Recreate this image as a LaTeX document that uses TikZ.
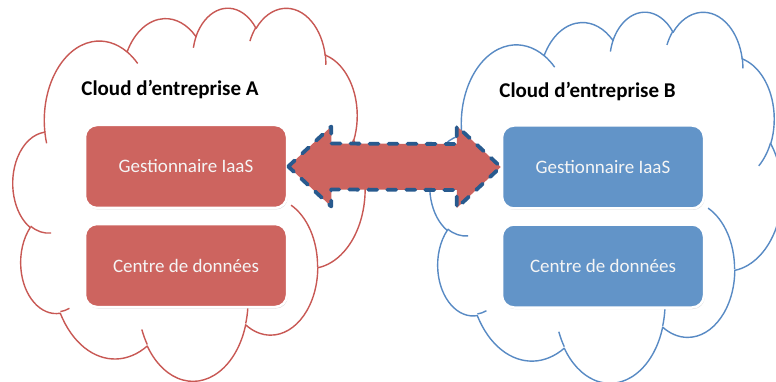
\documentclass[tikz,border=0pt]{standalone}
\usepackage{fontspec}
\setmainfont{Carlito}
\usetikzlibrary{calc,shadows}

\definecolor{redline}{RGB}{200,88,84}
\definecolor{redfill}{RGB}{205,100,95}
\definecolor{blueline}{RGB}{88,138,196}
\definecolor{bluefill}{RGB}{98,148,200}
\definecolor{dashblue}{RGB}{40,90,142}

% arc of the Office cloud shape: visual angles -> parametric angles
\newcommand\mkcarc[5]{%
  \pgfmathsetmacro\cta{atan2((#2)*sin(#4),(#3)*cos(#4))}%
  \pgfmathsetmacro\ctb{atan2((#2)*sin((#4)+(#5)),(#3)*cos((#4)+(#5)))}%
  \pgfmathsetmacro\ctd{(\ctb)-(\cta)+360*((\ctb)<(\cta))*((#5)>0)-360*((\ctb)>(\cta))*((#5)<0)}%
  \expandafter\xdef\csname #1\endcsname{arc[x radius=#2, y radius=#3, start angle=\cta, delta angle=\ctd]}%
}
\mkcarc{cArcA}{67.53}{91.90}{-190.4875}{123.7805}
\mkcarc{cArcB}{53.33}{72.67}{-144.1024}{89.9452}
\mkcarc{cArcC}{43.65}{59.45}{-145.8079}{99.7230}
\mkcarc{cArcD}{48.57}{65.95}{-130.9861}{117.2417}
\mkcarc{cArcE}{53.33}{72.73}{-78.7089}{109.0269}
\mkcarc{cArcF}{67.75}{92.20}{-46.2673}{130.2690}
\mkcarc{cArcG}{57.85}{78.67}{0.6250}{114.0333}
\mkcarc{cArcH}{67.52}{92.15}{22.4516}{115.1726}
\mkcarc{cArcI}{77.20}{105.43}{66.2426}{75.7110}
\mkcarc{cArcJ}{43.60}{59.18}{-274.9421}{146.7356}
\mkcarc{cArcK}{43.45}{59.45}{-246.8285}{152.5189}
\mkcarc{cInA}{43.45}{59.45}{86.7420}{26.4295}
\mkcarc{cInB}{43.60}{59.18}{73.6105}{11.4475}
\mkcarc{cInC}{67.52}{92.15}{137.6242}{14.0811}
\mkcarc{cInD}{67.52}{92.15}{6.4533}{15.9984}
\mkcarc{cInE}{57.85}{78.67}{-70.2924}{70.9174}
\mkcarc{cInF}{53.33}{72.73}{30.3180}{27.7515}
\mkcarc{cInG}{48.57}{65.95}{-13.7443}{14.8589}
\mkcarc{cInH}{48.57}{65.95}{-149.1815}{18.1954}
\mkcarc{cInI}{43.65}{59.45}{-163.4943}{17.6864}
\mkcarc{cInJ}{67.53}{91.90}{-66.7070}{12.3194}
\mkcarc{cInK}{67.53}{91.90}{157.6544}{11.8582}

\newcommand\cloudshape{%
  \draw (39.00,143.70) \cArcA \cArcB \cArcC \cArcD \cArcE \cArcF \cArcG \cArcH \cArcI \cArcJ \cArcK -- cycle;
  \draw (46.93,261.77) \cInA
        (69.28,348.99) \cInB
        (164.78,390.90) \cInC
        (288.27,347.51) \cInD
        (341.29,229.54) \cInE
        (417.98,153.54) \cInF
        (383.24,54.26) \cInG
        (290.78,39.52) \cInH
        (221.41,47.20) \cInI
        (140.00,51.92) \cInJ
        (41.27,157.89) \cInK;
}

\tikzset{
  cloudline/.style={line width=1.4pt, line join=round},
  box/.style={rectangle, rounded corners=12pt, minimum width=202pt, minimum height=83pt,
    draw=white, line width=2.5pt, text=white!96!black, font=\fontsize{19}{23}\selectfont,
    drop shadow={shadow xshift=0.8pt, shadow yshift=-1.5pt, opacity=0.3}},
  title/.style={font=\fontsize{21}{25}\selectfont\bfseries, text=black, anchor=base, inner sep=0pt},
  dblarrow/.style={fill=redfill, draw=dashblue, line width=3.8pt, dash pattern=on 9pt off 10pt,
    line cap=round, line join=round}
}

\begin{document}
\begin{tikzpicture}[x=1pt, y=-1pt]
\clip (0,0) rectangle (776,382);
\fill[white] (0,0) rectangle (776,382);

% clouds
\begin{scope}[shift={(13pt,-7pt)}, x=0.8148pt, y=-0.8634pt, color=redline, cloudline]
  \cloudshape
\end{scope}
\begin{scope}[shift={(430pt,-11pt)}, x=0.8148pt, y=-0.8588pt, color=blueline, cloudline]
  \cloudshape
\end{scope}

% titles
\node[title] (tA) at (170,96) {Cloud d’entreprise A};
\node[title] (tB) at (587.5,98) {Cloud d’entreprise B};

% boxes
\node[box, fill=redfill] (A1) at (186,166.5) {Gestionnaire IaaS};
\node[box, fill=redfill] (A2) at (186,265.5) {Centre de données};
\node[box, fill=bluefill] (B1) at (603,167) {Gestionnaire IaaS};
\node[box, fill=bluefill] (B2) at (603,266) {Centre de données};

% double block arrow between the two IaaS managers
\coordinate (aL) at (A1.east);
\coordinate (aR) at (B1.west);
\draw[dblarrow] (aL) -- ($(aL)+(43,-40)$) -- ($(aL)+(43,-23)$) -- ($(aR)+(-44,-23)$)
  -- ($(aR)+(-44,-41)$) -- (aR) -- ($(aR)+(-44,41)$) -- ($(aR)+(-44,23)$)
  -- ($(aL)+(43,23)$) -- ($(aL)+(43,40)$) -- cycle;
\end{tikzpicture}
\end{document}
